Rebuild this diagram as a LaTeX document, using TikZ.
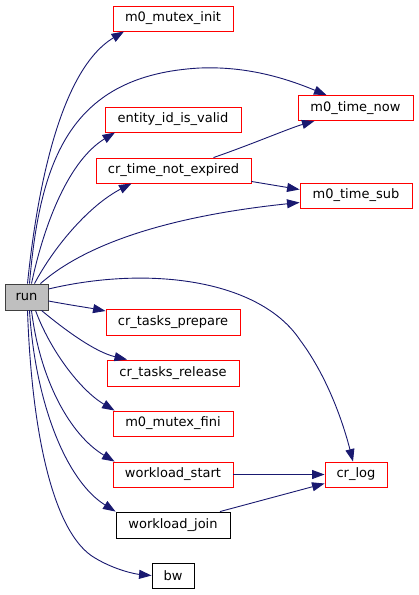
\documentclass[tikz,border=0pt]{standalone}
\usepackage{fontspec}
\setmainfont{DejaVu Sans}
\usetikzlibrary{arrows.meta}
\definecolor{edgeblue}{HTML}{191970}
\definecolor{runfill}{HTML}{BFBFBF}
\definecolor{runborder}{HTML}{404040}
\tikzset{
  fn/.style={draw=red, line width=0.9pt, fill=white, minimum height=25pt, inner sep=0pt,
    font=\fontsize{13}{15}\selectfont},
  fnblack/.style={fn, draw=black},
  fnrun/.style={fn, draw=runborder, fill=runfill},
  call/.style={draw=edgeblue, line width=0.9pt, -{Triangle[length=12.5pt,width=9pt]}},
}
\begin{document}
\begin{tikzpicture}[x=1pt,y=-1pt]
\useasboundingbox (0,0) rectangle (419,595);
\fill[white] (0,0) rectangle (419,595);
% nodes
\node[fnrun, minimum width=43pt, minimum height=26pt] (run) at (26.5,297) {run};
\node[fn, minimum width=120pt] (mutexinit) at (173,18.5) {m0\_mutex\_init};
\node[fn, minimum width=115pt] (timenow) at (355.5,108) {m0\_time\_now};
\node[fn, minimum width=136pt] (entity) at (173,119.5) {entity\_id\_is\_valid};
\node[fn, minimum width=155pt] (expired) at (173.5,170.5) {cr\_time\_not\_expired};
\node[fn, minimum width=112pt] (timesub) at (356,195.5) {m0\_time\_sub};
\node[fn, minimum width=134pt, minimum height=26pt] (prepare) at (173,322) {cr\_tasks\_prepare};
\node[fn, minimum width=132pt, minimum height=26pt] (release) at (173,373) {cr\_tasks\_release};
\node[fn, minimum width=120pt] (mutexfini) at (173,423.5) {m0\_mutex\_fini};
\node[fn, minimum width=120pt] (wstart) at (173,474.5) {workload\_start};
\node[fnblack, minimum width=114pt, minimum height=26pt] (wjoin) at (173,525) {workload\_join};
\node[fnblack, minimum width=42pt] (bw) at (173,575.5) {bw};
\node[fn, minimum width=62pt] (crlog) at (356,474.5) {cr\_log};
% edges
\draw[call] ([xshift=1]run.north) .. controls (37,190) and (60,70) .. ([xshift=-49]mutexinit.south);
\draw[call] ([xshift=3]run.north) .. controls (40,160) and (70,75) .. (200,68)
  .. controls (250,66) and (290,80) .. ([xshift=-29]timenow.north);
\draw[call] ([xshift=5]run.north) .. controls (45,220) and (70,160) .. ([xshift=-58]entity.south);
\draw[call] ([xshift=8]run.north) .. controls (55,245) and (90,205) .. ([xshift=-42]expired.south);
\draw[call] ([xshift=40]expired.north) .. controls (250,145) and (290,128) .. ([xshift=-41]timenow.south);
\draw[call] ([yshift=2]expired.south east) -- ([yshift=6]timesub.west);
\draw[call] ([xshift=14]run.north) .. controls (90,240) and (180,215) .. ([yshift=-7]timesub.west);
\draw[call] ([yshift=8]run.east) .. controls (150,265) and (260,280) .. (300,340)
  .. controls (330,380) and (345,430) .. ([xshift=-3]crlog.north);
\draw[call] ([yshift=-4]run.east) .. controls (70,305) and (90,308) .. ([yshift=11]prepare.west);
\draw[call] ([xshift=15]run.south) .. controls (65,330) and (95,352) .. ([xshift=-46]release.north);
\draw[call] ([xshift=9]run.south) .. controls (50,350) and (80,390) .. ([xshift=2]mutexfini.north west);
\draw[call] ([xshift=5]run.south) .. controls (40,380) and (70,435) .. ([xshift=2]wstart.north west);
\draw[call] ([xshift=3]run.south) .. controls (35,400) and (65,480) .. (wjoin.north west);
\draw[call] ([xshift=1]run.south) .. controls (32,440) and (55,535) .. (95,558)
  .. controls (115,570) and (135,574) .. (bw.west);
\draw[call] (wstart.east) -- (crlog.west);
\draw[call] ([xshift=47]wjoin.north) -- ([yshift=-9]crlog.west);
\end{tikzpicture}
\end{document}
